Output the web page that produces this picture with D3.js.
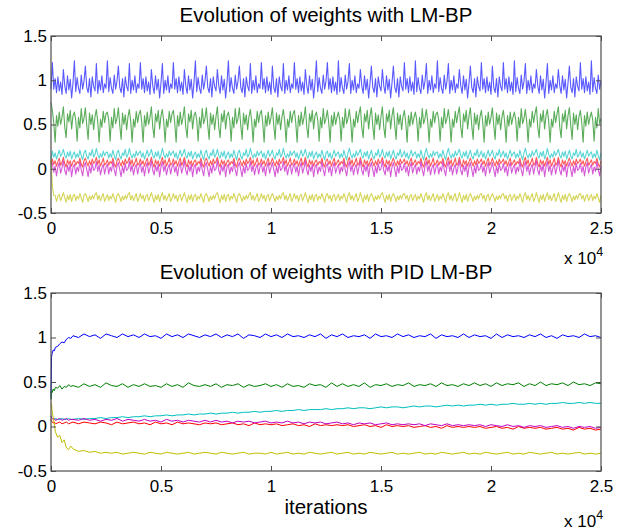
<!DOCTYPE html>
<html><head><meta charset="utf-8">
<script src="https://cdn.jsdelivr.net/npm/d3@7"></script>
<style>
body{margin:0;background:#fff}
svg{display:block}
text{font-family:"Liberation Sans",Arial,Helvetica,sans-serif;fill:#000}
</style>
</head><body>
<svg id="chart" width="629" height="532"></svg>
<script>
// ---------- DATA ----------
const xTickValues = [0, 5000, 10000, 15000, 20000, 25000];
const xTickLabels = ["0", "0.5", "1", "1.5", "2", "2.5"];
const yTickValues = [-0.5, 0, 0.5, 1, 1.5];
const yTickLabels = ["-0.5", "0", "0.5", "1", "1.5"];
const titles = ["Evolution of weights with LM-BP", "Evolution of weights with PID LM-BP"];
const xLabel = "iterations";
const seriesNames = ["w1", "w2", "w3", "w4", "w5", "w6"];
const seriesColors = ["#0000ff", "#008000", "#00bfbf", "#ff0000", "#bf00bf", "#bfbf00"];

// sampling iterations (every 62.5 iterations) for the LM-BP panel
const topIter = d3.range(0, 25001, 62.5);

const topBlue = [0.90,
1.20,0.90,1.02,0.86,1.04,0.88,0.98,0.84, 1.12,0.94,0.85,1.05,0.89,1.01,0.80,0.97, 1.22,0.87,1.03,0.91,0.85,1.06,0.90,0.99, 1.16,0.92,0.86,1.02,0.81,1.04,0.93,0.88, 1.19,0.85,1.00,0.89,1.05,0.86,0.96,0.91,
1.22,0.87,1.03,0.91,0.85,1.06,0.90,0.99, 1.16,0.92,0.86,1.02,0.81,1.04,0.93,0.88, 1.19,0.85,1.00,0.89,1.05,0.86,0.96,0.91, 1.20,0.90,1.02,0.86,1.04,0.88,0.98,0.84, 1.12,0.94,0.85,1.05,0.89,1.01,0.80,0.97,
1.19,0.85,1.00,0.89,1.05,0.86,0.96,0.91, 1.20,0.90,1.02,0.86,1.04,0.88,0.98,0.84, 1.12,0.94,0.85,1.05,0.89,1.01,0.80,0.97, 1.22,0.87,1.03,0.91,0.85,1.06,0.90,0.99, 1.16,0.92,0.86,1.02,0.81,1.04,0.93,0.88,
1.12,0.94,0.85,1.05,0.89,1.01,0.80,0.97, 1.22,0.87,1.03,0.91,0.85,1.06,0.90,0.99, 1.16,0.92,0.86,1.02,0.81,1.04,0.93,0.88, 1.19,0.85,1.00,0.89,1.05,0.86,0.96,0.91, 1.20,0.90,1.02,0.86,1.04,0.88,0.98,0.84,
1.16,0.92,0.86,1.02,0.81,1.04,0.93,0.88, 1.19,0.85,1.00,0.89,1.05,0.86,0.96,0.91, 1.20,0.90,1.02,0.86,1.04,0.88,0.98,0.84, 1.12,0.94,0.85,1.05,0.89,1.01,0.80,0.97, 1.22,0.87,1.03,0.91,0.85,1.06,0.90,0.99,
1.20,0.90,1.02,0.86,1.04,0.88,0.98,0.84, 1.22,0.87,1.03,0.91,0.85,1.06,0.90,0.99, 1.19,0.85,1.00,0.89,1.05,0.86,0.96,0.91, 1.12,0.94,0.85,1.05,0.89,1.01,0.80,0.97, 1.16,0.92,0.86,1.02,0.81,1.04,0.93,0.88,
1.12,0.94,0.85,1.05,0.89,1.01,0.80,0.97, 1.16,0.92,0.86,1.02,0.81,1.04,0.93,0.88, 1.20,0.90,1.02,0.86,1.04,0.88,0.98,0.84, 1.22,0.87,1.03,0.91,0.85,1.06,0.90,0.99, 1.19,0.85,1.00,0.89,1.05,0.86,0.96,0.91,
1.22,0.87,1.03,0.91,0.85,1.06,0.90,0.99, 1.19,0.85,1.00,0.89,1.05,0.86,0.96,0.91, 1.12,0.94,0.85,1.05,0.89,1.01,0.80,0.97, 1.16,0.92,0.86,1.02,0.81,1.04,0.93,0.88, 1.20,0.90,1.02,0.86,1.04,0.88,0.98,0.84,
1.16,0.92,0.86,1.02,0.81,1.04,0.93,0.88, 1.20,0.90,1.02,0.86,1.04,0.88,0.98,0.84, 1.22,0.87,1.03,0.91,0.85,1.06,0.90,0.99, 1.19,0.85,1.00,0.89,1.05,0.86,0.96,0.91, 1.12,0.94,0.85,1.05,0.89,1.01,0.80,0.97,
1.19,0.85,1.00,0.89,1.05,0.86,0.96,0.91, 1.12,0.94,0.85,1.05,0.89,1.01,0.80,0.97, 1.16,0.92,0.86,1.02,0.81,1.04,0.93,0.88, 1.20,0.90,1.02,0.86,1.04,0.88,0.98,0.84, 1.22,0.87,1.03,0.91,0.85,1.06,0.90,0.99];

const topGreen = [0.75,
0.66,0.52,0.30,0.60,0.48,0.64,0.50,0.58, 0.70,0.47,0.35,0.62,0.53,0.66,0.45,0.60, 0.64,0.55,0.31,0.58,0.46,0.68,0.51,0.57, 0.69,0.49,0.33,0.63,0.50,0.61,0.44,0.59, 0.67,0.53,0.30,0.56,0.47,0.65,0.52,0.62,
0.64,0.55,0.31,0.58,0.46,0.68,0.51,0.57, 0.69,0.49,0.33,0.63,0.50,0.61,0.44,0.59, 0.67,0.53,0.30,0.56,0.47,0.65,0.52,0.62, 0.66,0.52,0.30,0.60,0.48,0.64,0.50,0.58, 0.70,0.47,0.35,0.62,0.53,0.66,0.45,0.60,
0.67,0.53,0.30,0.56,0.47,0.65,0.52,0.62, 0.66,0.52,0.30,0.60,0.48,0.64,0.50,0.58, 0.70,0.47,0.35,0.62,0.53,0.66,0.45,0.60, 0.64,0.55,0.31,0.58,0.46,0.68,0.51,0.57, 0.69,0.49,0.33,0.63,0.50,0.61,0.44,0.59,
0.70,0.47,0.35,0.62,0.53,0.66,0.45,0.60, 0.64,0.55,0.31,0.58,0.46,0.68,0.51,0.57, 0.69,0.49,0.33,0.63,0.50,0.61,0.44,0.59, 0.67,0.53,0.30,0.56,0.47,0.65,0.52,0.62, 0.66,0.52,0.30,0.60,0.48,0.64,0.50,0.58,
0.69,0.49,0.33,0.63,0.50,0.61,0.44,0.59, 0.67,0.53,0.30,0.56,0.47,0.65,0.52,0.62, 0.66,0.52,0.30,0.60,0.48,0.64,0.50,0.58, 0.70,0.47,0.35,0.62,0.53,0.66,0.45,0.60, 0.64,0.55,0.31,0.58,0.46,0.68,0.51,0.57,
0.66,0.52,0.30,0.60,0.48,0.64,0.50,0.58, 0.64,0.55,0.31,0.58,0.46,0.68,0.51,0.57, 0.67,0.53,0.30,0.56,0.47,0.65,0.52,0.62, 0.70,0.47,0.35,0.62,0.53,0.66,0.45,0.60, 0.69,0.49,0.33,0.63,0.50,0.61,0.44,0.59,
0.70,0.47,0.35,0.62,0.53,0.66,0.45,0.60, 0.69,0.49,0.33,0.63,0.50,0.61,0.44,0.59, 0.66,0.52,0.30,0.60,0.48,0.64,0.50,0.58, 0.64,0.55,0.31,0.58,0.46,0.68,0.51,0.57, 0.67,0.53,0.30,0.56,0.47,0.65,0.52,0.62,
0.64,0.55,0.31,0.58,0.46,0.68,0.51,0.57, 0.67,0.53,0.30,0.56,0.47,0.65,0.52,0.62, 0.70,0.47,0.35,0.62,0.53,0.66,0.45,0.60, 0.69,0.49,0.33,0.63,0.50,0.61,0.44,0.59, 0.66,0.52,0.30,0.60,0.48,0.64,0.50,0.58,
0.69,0.49,0.33,0.63,0.50,0.61,0.44,0.59, 0.66,0.52,0.30,0.60,0.48,0.64,0.50,0.58, 0.64,0.55,0.31,0.58,0.46,0.68,0.51,0.57, 0.67,0.53,0.30,0.56,0.47,0.65,0.52,0.62, 0.70,0.47,0.35,0.62,0.53,0.66,0.45,0.60,
0.67,0.53,0.30,0.56,0.47,0.65,0.52,0.62, 0.70,0.47,0.35,0.62,0.53,0.66,0.45,0.60, 0.69,0.49,0.33,0.63,0.50,0.61,0.44,0.59, 0.66,0.52,0.30,0.60,0.48,0.64,0.50,0.58, 0.64,0.55,0.31,0.58,0.46,0.68,0.51,0.57];

const topCyan = [0.10,
0.20,0.13,0.18,0.11,0.16,0.21,0.14,0.17, 0.22,0.15,0.12,0.19,0.14,0.20,0.11,0.16, 0.19,0.12,0.17,0.13,0.21,0.15,0.10,0.18, 0.21,0.14,0.11,0.18,0.15,0.22,0.13,0.16, 0.23,0.16,0.12,0.17,0.13,0.20,0.15,0.18,
0.19,0.12,0.17,0.13,0.21,0.15,0.10,0.18, 0.21,0.14,0.11,0.18,0.15,0.22,0.13,0.16, 0.23,0.16,0.12,0.17,0.13,0.20,0.15,0.18, 0.20,0.13,0.18,0.11,0.16,0.21,0.14,0.17, 0.22,0.15,0.12,0.19,0.14,0.20,0.11,0.16,
0.23,0.16,0.12,0.17,0.13,0.20,0.15,0.18, 0.20,0.13,0.18,0.11,0.16,0.21,0.14,0.17, 0.22,0.15,0.12,0.19,0.14,0.20,0.11,0.16, 0.19,0.12,0.17,0.13,0.21,0.15,0.10,0.18, 0.21,0.14,0.11,0.18,0.15,0.22,0.13,0.16,
0.22,0.15,0.12,0.19,0.14,0.20,0.11,0.16, 0.19,0.12,0.17,0.13,0.21,0.15,0.10,0.18, 0.21,0.14,0.11,0.18,0.15,0.22,0.13,0.16, 0.23,0.16,0.12,0.17,0.13,0.20,0.15,0.18, 0.20,0.13,0.18,0.11,0.16,0.21,0.14,0.17,
0.21,0.14,0.11,0.18,0.15,0.22,0.13,0.16, 0.23,0.16,0.12,0.17,0.13,0.20,0.15,0.18, 0.20,0.13,0.18,0.11,0.16,0.21,0.14,0.17, 0.22,0.15,0.12,0.19,0.14,0.20,0.11,0.16, 0.19,0.12,0.17,0.13,0.21,0.15,0.10,0.18,
0.20,0.13,0.18,0.11,0.16,0.21,0.14,0.17, 0.19,0.12,0.17,0.13,0.21,0.15,0.10,0.18, 0.23,0.16,0.12,0.17,0.13,0.20,0.15,0.18, 0.22,0.15,0.12,0.19,0.14,0.20,0.11,0.16, 0.21,0.14,0.11,0.18,0.15,0.22,0.13,0.16,
0.22,0.15,0.12,0.19,0.14,0.20,0.11,0.16, 0.21,0.14,0.11,0.18,0.15,0.22,0.13,0.16, 0.20,0.13,0.18,0.11,0.16,0.21,0.14,0.17, 0.19,0.12,0.17,0.13,0.21,0.15,0.10,0.18, 0.23,0.16,0.12,0.17,0.13,0.20,0.15,0.18,
0.19,0.12,0.17,0.13,0.21,0.15,0.10,0.18, 0.23,0.16,0.12,0.17,0.13,0.20,0.15,0.18, 0.22,0.15,0.12,0.19,0.14,0.20,0.11,0.16, 0.21,0.14,0.11,0.18,0.15,0.22,0.13,0.16, 0.20,0.13,0.18,0.11,0.16,0.21,0.14,0.17,
0.21,0.14,0.11,0.18,0.15,0.22,0.13,0.16, 0.20,0.13,0.18,0.11,0.16,0.21,0.14,0.17, 0.19,0.12,0.17,0.13,0.21,0.15,0.10,0.18, 0.23,0.16,0.12,0.17,0.13,0.20,0.15,0.18, 0.22,0.15,0.12,0.19,0.14,0.20,0.11,0.16,
0.23,0.16,0.12,0.17,0.13,0.20,0.15,0.18, 0.22,0.15,0.12,0.19,0.14,0.20,0.11,0.16, 0.21,0.14,0.11,0.18,0.15,0.22,0.13,0.16, 0.20,0.13,0.18,0.11,0.16,0.21,0.14,0.17, 0.19,0.12,0.17,0.13,0.21,0.15,0.10,0.18];

const topRed = [0.05,
0.11,0.05,0.09,0.03,0.08,0.12,0.04,0.07, 0.13,0.06,0.02,0.10,0.05,0.09,0.03,0.08, 0.10,0.04,0.08,0.06,0.12,0.05,0.02,0.09, 0.12,0.07,0.03,0.09,0.04,0.11,0.06,0.08, 0.13,0.05,0.10,0.03,0.07,0.12,0.04,0.06,
0.10,0.04,0.08,0.06,0.12,0.05,0.02,0.09, 0.12,0.07,0.03,0.09,0.04,0.11,0.06,0.08, 0.13,0.05,0.10,0.03,0.07,0.12,0.04,0.06, 0.11,0.05,0.09,0.03,0.08,0.12,0.04,0.07, 0.13,0.06,0.02,0.10,0.05,0.09,0.03,0.08,
0.13,0.05,0.10,0.03,0.07,0.12,0.04,0.06, 0.11,0.05,0.09,0.03,0.08,0.12,0.04,0.07, 0.13,0.06,0.02,0.10,0.05,0.09,0.03,0.08, 0.10,0.04,0.08,0.06,0.12,0.05,0.02,0.09, 0.12,0.07,0.03,0.09,0.04,0.11,0.06,0.08,
0.13,0.06,0.02,0.10,0.05,0.09,0.03,0.08, 0.10,0.04,0.08,0.06,0.12,0.05,0.02,0.09, 0.12,0.07,0.03,0.09,0.04,0.11,0.06,0.08, 0.13,0.05,0.10,0.03,0.07,0.12,0.04,0.06, 0.11,0.05,0.09,0.03,0.08,0.12,0.04,0.07,
0.12,0.07,0.03,0.09,0.04,0.11,0.06,0.08, 0.13,0.05,0.10,0.03,0.07,0.12,0.04,0.06, 0.11,0.05,0.09,0.03,0.08,0.12,0.04,0.07, 0.13,0.06,0.02,0.10,0.05,0.09,0.03,0.08, 0.10,0.04,0.08,0.06,0.12,0.05,0.02,0.09,
0.11,0.05,0.09,0.03,0.08,0.12,0.04,0.07, 0.10,0.04,0.08,0.06,0.12,0.05,0.02,0.09, 0.13,0.05,0.10,0.03,0.07,0.12,0.04,0.06, 0.13,0.06,0.02,0.10,0.05,0.09,0.03,0.08, 0.12,0.07,0.03,0.09,0.04,0.11,0.06,0.08,
0.13,0.06,0.02,0.10,0.05,0.09,0.03,0.08, 0.12,0.07,0.03,0.09,0.04,0.11,0.06,0.08, 0.11,0.05,0.09,0.03,0.08,0.12,0.04,0.07, 0.10,0.04,0.08,0.06,0.12,0.05,0.02,0.09, 0.13,0.05,0.10,0.03,0.07,0.12,0.04,0.06,
0.10,0.04,0.08,0.06,0.12,0.05,0.02,0.09, 0.13,0.05,0.10,0.03,0.07,0.12,0.04,0.06, 0.13,0.06,0.02,0.10,0.05,0.09,0.03,0.08, 0.12,0.07,0.03,0.09,0.04,0.11,0.06,0.08, 0.11,0.05,0.09,0.03,0.08,0.12,0.04,0.07,
0.12,0.07,0.03,0.09,0.04,0.11,0.06,0.08, 0.11,0.05,0.09,0.03,0.08,0.12,0.04,0.07, 0.10,0.04,0.08,0.06,0.12,0.05,0.02,0.09, 0.13,0.05,0.10,0.03,0.07,0.12,0.04,0.06, 0.13,0.06,0.02,0.10,0.05,0.09,0.03,0.08,
0.13,0.05,0.10,0.03,0.07,0.12,0.04,0.06, 0.13,0.06,0.02,0.10,0.05,0.09,0.03,0.08, 0.12,0.07,0.03,0.09,0.04,0.11,0.06,0.08, 0.11,0.05,0.09,0.03,0.08,0.12,0.04,0.07, 0.10,0.04,0.08,0.06,0.12,0.05,0.02,0.09];

const topMagenta = [0.08,
0.06,-0.04,0.03,-0.08,0.02,0.07,-0.05,0.01, 0.09,-0.02,-0.07,0.04,-0.03,0.05,-0.09,0.02, 0.05,-0.06,0.02,-0.03,0.08,-0.01,-0.08,0.03, 0.07,-0.01,-0.09,0.03,-0.05,0.06,-0.02,0.00, 0.08,-0.03,0.04,-0.07,0.01,0.05,-0.06,0.02,
0.05,-0.06,0.02,-0.03,0.08,-0.01,-0.08,0.03, 0.07,-0.01,-0.09,0.03,-0.05,0.06,-0.02,0.00, 0.08,-0.03,0.04,-0.07,0.01,0.05,-0.06,0.02, 0.06,-0.04,0.03,-0.08,0.02,0.07,-0.05,0.01, 0.09,-0.02,-0.07,0.04,-0.03,0.05,-0.09,0.02,
0.08,-0.03,0.04,-0.07,0.01,0.05,-0.06,0.02, 0.06,-0.04,0.03,-0.08,0.02,0.07,-0.05,0.01, 0.09,-0.02,-0.07,0.04,-0.03,0.05,-0.09,0.02, 0.05,-0.06,0.02,-0.03,0.08,-0.01,-0.08,0.03, 0.07,-0.01,-0.09,0.03,-0.05,0.06,-0.02,0.00,
0.09,-0.02,-0.07,0.04,-0.03,0.05,-0.09,0.02, 0.05,-0.06,0.02,-0.03,0.08,-0.01,-0.08,0.03, 0.07,-0.01,-0.09,0.03,-0.05,0.06,-0.02,0.00, 0.08,-0.03,0.04,-0.07,0.01,0.05,-0.06,0.02, 0.06,-0.04,0.03,-0.08,0.02,0.07,-0.05,0.01,
0.07,-0.01,-0.09,0.03,-0.05,0.06,-0.02,0.00, 0.08,-0.03,0.04,-0.07,0.01,0.05,-0.06,0.02, 0.06,-0.04,0.03,-0.08,0.02,0.07,-0.05,0.01, 0.09,-0.02,-0.07,0.04,-0.03,0.05,-0.09,0.02, 0.05,-0.06,0.02,-0.03,0.08,-0.01,-0.08,0.03,
0.06,-0.04,0.03,-0.08,0.02,0.07,-0.05,0.01, 0.05,-0.06,0.02,-0.03,0.08,-0.01,-0.08,0.03, 0.08,-0.03,0.04,-0.07,0.01,0.05,-0.06,0.02, 0.09,-0.02,-0.07,0.04,-0.03,0.05,-0.09,0.02, 0.07,-0.01,-0.09,0.03,-0.05,0.06,-0.02,0.00,
0.09,-0.02,-0.07,0.04,-0.03,0.05,-0.09,0.02, 0.07,-0.01,-0.09,0.03,-0.05,0.06,-0.02,0.00, 0.06,-0.04,0.03,-0.08,0.02,0.07,-0.05,0.01, 0.05,-0.06,0.02,-0.03,0.08,-0.01,-0.08,0.03, 0.08,-0.03,0.04,-0.07,0.01,0.05,-0.06,0.02,
0.05,-0.06,0.02,-0.03,0.08,-0.01,-0.08,0.03, 0.08,-0.03,0.04,-0.07,0.01,0.05,-0.06,0.02, 0.09,-0.02,-0.07,0.04,-0.03,0.05,-0.09,0.02, 0.07,-0.01,-0.09,0.03,-0.05,0.06,-0.02,0.00, 0.06,-0.04,0.03,-0.08,0.02,0.07,-0.05,0.01,
0.07,-0.01,-0.09,0.03,-0.05,0.06,-0.02,0.00, 0.06,-0.04,0.03,-0.08,0.02,0.07,-0.05,0.01, 0.05,-0.06,0.02,-0.03,0.08,-0.01,-0.08,0.03, 0.08,-0.03,0.04,-0.07,0.01,0.05,-0.06,0.02, 0.09,-0.02,-0.07,0.04,-0.03,0.05,-0.09,0.02,
0.08,-0.03,0.04,-0.07,0.01,0.05,-0.06,0.02, 0.09,-0.02,-0.07,0.04,-0.03,0.05,-0.09,0.02, 0.07,-0.01,-0.09,0.03,-0.05,0.06,-0.02,0.00, 0.06,-0.04,0.03,-0.08,0.02,0.07,-0.05,0.01, 0.05,-0.06,0.02,-0.03,0.08,-0.01,-0.08,0.03];

const topYellow = [0.10,
-0.20,-0.30,-0.30,-0.37,-0.31,-0.29,-0.36,-0.32, -0.27,-0.33,-0.38,-0.30,-0.35,-0.29,-0.37,-0.31, -0.29,-0.36,-0.31,-0.34,-0.28,-0.33,-0.38,-0.30, -0.28,-0.32,-0.37,-0.31,-0.35,-0.30,-0.34,-0.29, -0.27,-0.35,-0.30,-0.36,-0.32,-0.28,-0.37,-0.33,
-0.29,-0.36,-0.31,-0.34,-0.28,-0.33,-0.38,-0.30, -0.28,-0.32,-0.37,-0.31,-0.35,-0.30,-0.34,-0.29, -0.27,-0.35,-0.30,-0.36,-0.32,-0.28,-0.37,-0.33, -0.28,-0.34,-0.30,-0.37,-0.31,-0.29,-0.36,-0.32, -0.27,-0.33,-0.38,-0.30,-0.35,-0.29,-0.37,-0.31,
-0.27,-0.35,-0.30,-0.36,-0.32,-0.28,-0.37,-0.33, -0.28,-0.34,-0.30,-0.37,-0.31,-0.29,-0.36,-0.32, -0.27,-0.33,-0.38,-0.30,-0.35,-0.29,-0.37,-0.31, -0.29,-0.36,-0.31,-0.34,-0.28,-0.33,-0.38,-0.30, -0.28,-0.32,-0.37,-0.31,-0.35,-0.30,-0.34,-0.29,
-0.27,-0.33,-0.38,-0.30,-0.35,-0.29,-0.37,-0.31, -0.29,-0.36,-0.31,-0.34,-0.28,-0.33,-0.38,-0.30, -0.28,-0.32,-0.37,-0.31,-0.35,-0.30,-0.34,-0.29, -0.27,-0.35,-0.30,-0.36,-0.32,-0.28,-0.37,-0.33, -0.28,-0.34,-0.30,-0.37,-0.31,-0.29,-0.36,-0.32,
-0.28,-0.32,-0.37,-0.31,-0.35,-0.30,-0.34,-0.29, -0.27,-0.35,-0.30,-0.36,-0.32,-0.28,-0.37,-0.33, -0.28,-0.34,-0.30,-0.37,-0.31,-0.29,-0.36,-0.32, -0.27,-0.33,-0.38,-0.30,-0.35,-0.29,-0.37,-0.31, -0.29,-0.36,-0.31,-0.34,-0.28,-0.33,-0.38,-0.30,
-0.28,-0.34,-0.30,-0.37,-0.31,-0.29,-0.36,-0.32, -0.29,-0.36,-0.31,-0.34,-0.28,-0.33,-0.38,-0.30, -0.27,-0.35,-0.30,-0.36,-0.32,-0.28,-0.37,-0.33, -0.27,-0.33,-0.38,-0.30,-0.35,-0.29,-0.37,-0.31, -0.28,-0.32,-0.37,-0.31,-0.35,-0.30,-0.34,-0.29,
-0.27,-0.33,-0.38,-0.30,-0.35,-0.29,-0.37,-0.31, -0.28,-0.32,-0.37,-0.31,-0.35,-0.30,-0.34,-0.29, -0.28,-0.34,-0.30,-0.37,-0.31,-0.29,-0.36,-0.32, -0.29,-0.36,-0.31,-0.34,-0.28,-0.33,-0.38,-0.30, -0.27,-0.35,-0.30,-0.36,-0.32,-0.28,-0.37,-0.33,
-0.29,-0.36,-0.31,-0.34,-0.28,-0.33,-0.38,-0.30, -0.27,-0.35,-0.30,-0.36,-0.32,-0.28,-0.37,-0.33, -0.27,-0.33,-0.38,-0.30,-0.35,-0.29,-0.37,-0.31, -0.28,-0.32,-0.37,-0.31,-0.35,-0.30,-0.34,-0.29, -0.28,-0.34,-0.30,-0.37,-0.31,-0.29,-0.36,-0.32,
-0.28,-0.32,-0.37,-0.31,-0.35,-0.30,-0.34,-0.29, -0.28,-0.34,-0.30,-0.37,-0.31,-0.29,-0.36,-0.32, -0.29,-0.36,-0.31,-0.34,-0.28,-0.33,-0.38,-0.30, -0.27,-0.35,-0.30,-0.36,-0.32,-0.28,-0.37,-0.33, -0.27,-0.33,-0.38,-0.30,-0.35,-0.29,-0.37,-0.31,
-0.27,-0.35,-0.30,-0.36,-0.32,-0.28,-0.37,-0.33, -0.27,-0.33,-0.38,-0.30,-0.35,-0.29,-0.37,-0.31, -0.28,-0.32,-0.37,-0.31,-0.35,-0.30,-0.34,-0.29, -0.28,-0.34,-0.30,-0.37,-0.31,-0.29,-0.36,-0.32, -0.29,-0.36,-0.31,-0.34,-0.28,-0.33,-0.38,-0.30];

// sampling iterations for the PID LM-BP panel (dense at the start)
const bottomIterEarly = [0, 25, 50, 100, 150, 200, 300, 400, 500, 600, 700, 800, 900, 1000];
const bottomIter = bottomIterEarly.concat(d3.range(1250, 25001, 250));

const botBlue = [0.32,0.78,0.82,0.86,0.85,0.89,0.90,0.93,0.95,0.94,0.98,1.00,0.99,1.02,
1.00,1.04,1.01,1.03,0.99,1.04,1.02,1.00,1.04,1.01,1.03,1.00,
1.04,1.01,1.02,0.99,1.04,1.01,1.03,1.00,1.04,1.02,1.00,1.03,
1.01,1.04,1.00,1.03,1.01,1.04,0.99,1.03,1.02,1.00,1.04,1.01,
1.03,1.00,1.04,1.01,1.02,1.00,1.03,1.01,1.04,0.99,1.03,1.01,
1.04,1.00,1.02,1.01,1.03,0.99,1.04,1.01,1.02,1.00,1.04,1.01,
1.03,1.00,1.02,1.01,1.04,0.99,1.03,1.01,1.02,1.00,1.04,1.00,
1.03,1.01,1.02,0.99,1.04,1.00,1.03,1.01,1.02,1.00,1.03,1.01,
1.04,1.00,1.02,0.99,1.03,1.01,1.02,1.00,1.04,1.01,1.02,1.00];

const botGreen = [0.30,0.40,0.38,0.42,0.40,0.44,0.43,0.46,0.42,0.45,0.44,0.47,0.45,0.46,
0.44,0.48,0.45,0.47,0.44,0.49,0.46,0.45,0.48,0.44,0.47,0.45,
0.48,0.45,0.46,0.44,0.48,0.45,0.47,0.44,0.49,0.46,0.45,0.47,
0.45,0.48,0.44,0.47,0.46,0.48,0.44,0.47,0.45,0.46,0.48,0.45,
0.47,0.44,0.48,0.45,0.46,0.44,0.48,0.46,0.47,0.44,0.49,0.45,
0.48,0.45,0.47,0.45,0.49,0.44,0.47,0.46,0.48,0.45,0.47,0.46,
0.49,0.45,0.47,0.46,0.48,0.45,0.49,0.46,0.47,0.45,0.48,0.46,
0.49,0.46,0.48,0.45,0.49,0.46,0.48,0.47,0.49,0.45,0.48,0.46,
0.50,0.46,0.48,0.47,0.49,0.46,0.50,0.47,0.48,0.46,0.49,0.48];

const botCyan = [0.12,0.10,0.09,0.09,0.08,0.09,0.08,0.08,0.09,0.08,0.08,0.09,0.08,0.08,
0.09,0.08,0.09,0.09,0.10,0.09,0.10,0.10,0.11,0.10,0.11,0.11,
0.12,0.11,0.12,0.12,0.13,0.12,0.13,0.13,0.14,0.13,0.14,0.14,
0.15,0.14,0.15,0.15,0.16,0.15,0.16,0.16,0.17,0.16,0.17,0.17,
0.18,0.17,0.18,0.18,0.19,0.18,0.19,0.19,0.19,0.20,0.19,0.20,
0.20,0.21,0.20,0.21,0.21,0.20,0.21,0.22,0.21,0.22,0.22,0.21,
0.22,0.23,0.22,0.23,0.23,0.22,0.23,0.24,0.23,0.24,0.23,0.24,
0.24,0.25,0.24,0.25,0.24,0.25,0.25,0.26,0.25,0.25,0.26,0.25,
0.26,0.25,0.26,0.26,0.27,0.26,0.26,0.27,0.26,0.27,0.26,0.26];

const botRed = [0.08,0.06,0.05,0.04,0.05,0.03,0.04,0.05,0.03,0.04,0.05,0.03,0.04,0.05,
0.03,0.05,0.04,0.03,0.05,0.04,0.02,0.05,0.03,0.04,0.05,0.03,
0.04,0.02,0.05,0.03,0.04,0.02,0.05,0.03,0.04,0.03,0.02,0.04,
0.03,0.04,0.02,0.03,0.04,0.02,0.03,0.01,0.04,0.02,0.03,0.02,
0.03,0.01,0.02,0.03,0.01,0.02,0.00,0.03,0.01,0.02,0.01,0.02,
0.01,0.02,0.00,0.01,0.02,0.00,0.01,-0.01,0.02,0.00,0.01,0.00,
0.01,-0.01,0.00,0.01,-0.01,0.00,-0.02,0.01,-0.01,0.00,-0.01,0.00,
-0.01,0.00,-0.02,-0.01,0.00,-0.02,-0.01,-0.03,0.00,-0.02,-0.01,-0.02,
-0.01,-0.03,-0.02,-0.01,-0.03,-0.02,-0.04,-0.01,-0.03,-0.02,-0.04,-0.03];

const botMagenta = [0.12,0.10,0.09,0.08,0.09,0.07,0.08,0.09,0.07,0.08,0.09,0.07,0.08,0.08,
0.07,0.09,0.07,0.08,0.06,0.08,0.07,0.09,0.06,0.08,0.07,0.06,
0.08,0.06,0.07,0.05,0.08,0.06,0.07,0.05,0.07,0.06,0.05,0.07,
0.05,0.07,0.05,0.06,0.04,0.06,0.05,0.06,0.04,0.05,0.06,0.04,
0.05,0.04,0.06,0.04,0.05,0.03,0.05,0.04,0.05,0.03,0.04,0.05,
0.03,0.04,0.02,0.04,0.03,0.04,0.02,0.03,0.04,0.02,0.03,0.02,
0.03,0.02,0.03,0.01,0.03,0.02,0.01,0.03,0.01,0.02,0.01,0.02,
0.01,0.02,0.00,0.02,0.01,0.00,0.02,0.00,0.01,-0.01,0.01,0.00,
0.01,-0.01,0.00,0.01,-0.01,0.00,-0.02,0.00,-0.01,0.00,-0.02,-0.01];

const botYellow = [0.27,0.25,0.18,0.10,0.02,-0.06,-0.12,-0.10,-0.18,-0.15,-0.24,-0.26,-0.22,-0.25,
-0.28,-0.27,-0.29,-0.28,-0.30,-0.29,-0.30,-0.29,-0.31,-0.30,-0.29,-0.30,
-0.31,-0.29,-0.30,-0.31,-0.29,-0.30,-0.31,-0.30,-0.29,-0.31,-0.30,-0.29,
-0.30,-0.31,-0.29,-0.30,-0.31,-0.30,-0.29,-0.31,-0.30,-0.30,-0.31,-0.29,
-0.31,-0.30,-0.29,-0.31,-0.30,-0.31,-0.29,-0.30,-0.31,-0.30,-0.29,-0.31,
-0.30,-0.29,-0.31,-0.30,-0.31,-0.29,-0.30,-0.31,-0.30,-0.29,-0.31,-0.30,
-0.31,-0.30,-0.29,-0.31,-0.30,-0.31,-0.29,-0.30,-0.31,-0.30,-0.29,-0.31,
-0.30,-0.31,-0.29,-0.30,-0.31,-0.30,-0.29,-0.31,-0.30,-0.31,-0.29,-0.30,
-0.31,-0.30,-0.29,-0.31,-0.30,-0.31,-0.30,-0.29,-0.31,-0.30,-0.31,-0.30];

// ---------- DRAW ----------
const svg = d3.select("#chart");
const left = 51, right = 601;
const panels = [
  {top: 36, bottom: 213, iter: topIter,
   series: [topBlue, topGreen, topCyan, topRed, topMagenta, topYellow],
   titleY: 22, expY: 264, width: 1.1, opacity: 0.65},
  {top: 293, bottom: 471, iter: bottomIter,
   series: [botBlue, botGreen, botCyan, botRed, botMagenta, botYellow],
   titleY: 279, expY: 527, width: 1, opacity: 1}
];
const axisColor = "#4d4d4d";

panels.forEach((p, pi) => {
  const x = d3.scaleLinear().domain([0, 25000]).range([left, right]);
  const y = d3.scaleLinear().domain([-0.5, 1.5]).range([p.bottom, p.top]);
  const g = svg.append("g");

  const line = d3.line().x((d, i) => x(p.iter[i])).y(d => y(d));
  p.series.forEach((s, si) => {
    g.append("path")
      .datum(s)
      .attr("fill", "none")
      .attr("stroke", seriesColors[si])
      .attr("stroke-width", p.width)
      .attr("stroke-opacity", p.opacity)
      .attr("stroke-linejoin", "round")
      .attr("d", line);
  });

  g.append("rect")
    .attr("x", left).attr("y", p.top)
    .attr("width", right - left).attr("height", p.bottom - p.top)
    .attr("fill", "none").attr("stroke", axisColor).attr("stroke-width", 1.2);

  const xb = g.append("g").attr("transform", `translate(0,${p.bottom})`)
    .call(d3.axisBottom(x).tickValues(xTickValues).tickSize(-5).tickSizeOuter(0).tickPadding(9)
      .tickFormat((d, i) => xTickLabels[i]));
  const xt = g.append("g").attr("transform", `translate(0,${p.top})`)
    .call(d3.axisTop(x).tickValues(xTickValues).tickSize(-5).tickSizeOuter(0).tickFormat(""));
  const yl = g.append("g").attr("transform", `translate(${left},0)`)
    .call(d3.axisLeft(y).tickValues(yTickValues).tickSize(-5).tickSizeOuter(0).tickPadding(4)
      .tickFormat((d, i) => yTickLabels[i]));
  const yr = g.append("g").attr("transform", `translate(${right},0)`)
    .call(d3.axisRight(y).tickValues(yTickValues).tickSize(-5).tickSizeOuter(0).tickFormat(""));
  [xb, xt, yl, yr].forEach(a => {
    a.select(".domain").remove();
    a.selectAll(".tick line").attr("stroke", axisColor);
    a.selectAll(".tick text").attr("font-size", 17).attr("font-family", '"Liberation Sans",Arial,sans-serif').attr("fill", "#000");
  });

  g.append("text").attr("x", (left + right) / 2).attr("y", p.titleY)
    .attr("text-anchor", "middle").attr("font-size", 20.5).text(titles[pi]);

  const ex = g.append("text").attr("x", 564).attr("y", p.expY).attr("font-size", 17);
  ex.append("tspan").text("x 10");
  ex.append("tspan").attr("dy", -8).attr("font-size", 12.5).text("4");
});

svg.append("text").attr("x", (left + right) / 2).attr("y", 514)
  .attr("text-anchor", "middle").attr("font-size", 20.5).text(xLabel);
</script>
</body></html>
